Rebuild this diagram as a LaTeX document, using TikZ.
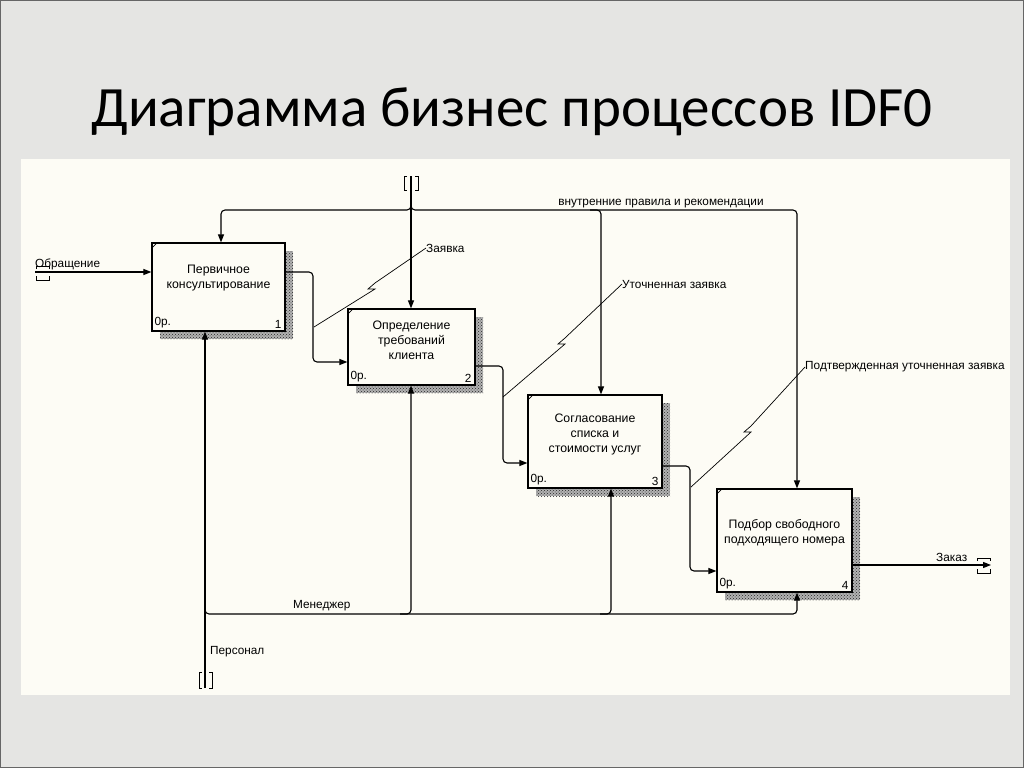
\documentclass[tikz,border=0pt]{standalone}
\usepackage{fontspec}
\setmainfont{Liberation Sans}
\newfontfamily\titlefont{Carlito}
\usetikzlibrary{arrows.meta,patterns,calc}
\definecolor{bgg}{RGB}{229,229,227}
\definecolor{panel}{RGB}{253,252,245}
\begin{document}
\begin{tikzpicture}[x=1pt,y=-1pt,
  box/.style={draw,line width=1.2pt,fill=panel,inner sep=0pt},
  shadowbox/.style={fill=black!30,postaction={pattern=crosshatch dots,pattern color=black!85}},
  conn/.style={line width=1.1pt,rounded corners=4pt},
  arr/.style={conn,-{Triangle[length=8pt,width=6pt]}},
  tun/.style={line width=1pt},
  lead/.style={line width=0.7pt},
  lbl/.style={font=\fontsize{11.8}{13}\selectfont,inner sep=0pt},
  btxt/.style={font=\fontsize{12.3}{15}\selectfont,align=center,inner sep=0pt},
]
\useasboundingbox (0,0) rectangle (1024,768);
\fill[bgg] (0,0) rectangle (1024,768);
\draw[black!60,line width=1.2pt] (0.6,0.6) rectangle (1023.4,767.4);
\fill[panel] (21,159) rectangle (1010,695);
\node[font=\titlefont\fontsize{57}{60}\selectfont,anchor=base] (title) at (512,126) {Диаграмма бизнес процессов IDF0};

% shadows
\path[shadowbox] (160,251) rectangle (293,339);
\path[shadowbox] (356,317) rectangle (483,393);
\path[shadowbox] (536,403) rectangle (670,496);
\path[shadowbox] (725,497) rectangle (860,600);

% boxes
\node[box,minimum width=133pt,minimum height=88pt] (b1) at (218.5,287) {};
\node[box,minimum width=127pt,minimum height=76pt] (b2) at (411.5,347) {};
\node[box,minimum width=134pt,minimum height=93pt] (b3) at (595,441.5) {};
\node[box,minimum width=135pt,minimum height=103pt] (b4) at (784.5,540.5) {};

\foreach \b in {b1,b2,b3,b4}{
  \draw[lead] ([yshift=-6pt]\b.north west) -- ([xshift=6pt]\b.north west);
}

\node[btxt] (t1) at (218.5,278) {Первичное\\консультирование};
\node[btxt] (t2) at (411.5,340) {Определение\\требований\\клиента};
\node[btxt] (t3) at (595,434) {Согласование\\списка и\\стоимости услуг};
\node[btxt] (t4) at (784.5,533) {Подбор свободного\\подходящего номера};

\node[lbl,anchor=south west] (n1) at ([xshift=3pt,yshift=3pt]b1.south west) {0р.};
\node[lbl,anchor=south east] (k1) at ([xshift=-4pt,yshift=3pt]b1.south east) {1};
\node[lbl,anchor=south west] (n2) at ([xshift=3pt,yshift=3pt]b2.south west) {0р.};
\node[lbl,anchor=south east] (k2) at ([xshift=-4pt,yshift=3pt]b2.south east) {2};
\node[lbl,anchor=south west] (n3) at ([xshift=3pt,yshift=3pt]b3.south west) {0р.};
\node[lbl,anchor=south east] (k3) at ([xshift=-4pt,yshift=3pt]b3.south east) {3};
\node[lbl,anchor=south west] (n4) at ([xshift=3pt,yshift=3pt]b4.south west) {0р.};
\node[lbl,anchor=south east] (k4) at ([xshift=-4pt,yshift=3pt]b4.south east) {4};

% input
\coordinate (inL) at (35,272);
\draw[arr] (inL) -- (b1.west |- inL);
\draw[tun] (36,269) -- (36,266) -- (49,266) -- (49,269);
\draw[tun] (36,276) -- (36,280) -- (49,280) -- (49,276);
\node[lbl,anchor=south west] (lobr) at (35,270) {Обращение};

% controls
\coordinate (ctop) at (411,176);
\coordinate (j1a) at (411,202);
\coordinate (j1) at (411,210);
\coordinate (j2a) at (590,210);
\coordinate (j2) at (601,210);
\draw[arr] (ctop) -- (b2.north -| ctop);
\draw[tun] (407,176) -- (404,176) -- (404,190) -- (407,190);
\draw[tun] (415,176) -- (418,176) -- (418,190) -- (415,190);
\draw[arr] (j1a) -- (j1) -| ([xshift=2.5pt]b1.north);
\draw[arr] (j1a) -- (j1) -| ([xshift=12.5pt]b4.north);
\draw[arr] (j2a) -- (j2) -- (b3.north -| j2);
\node[lbl,anchor=south] (lrules) at (661,208) {внутренние правила и рекомендации};

% b1 -> b2
\draw[arr] (b1.east |- 0,272) -- (313,272) -- (313,362) -- (b2.west |- 0,362);
\node[lbl,anchor=west] (lz) at (426,248) {Заявка};
\draw[lead] (lz.west) -- (375,283) -- (368,289) -- (375,289) -- (314,327);

% b2 -> b3
\draw[arr] (b2.east |- 0,366) -- (503,366) -- (503,463) -- (b3.west |- 0,463);
\node[lbl,anchor=west] (lu) at (622,284) {Уточненная заявка};
\draw[lead] (lu.west) -- (565,338) -- (558,344) -- (565,344) -- (503,397);

% b3 -> b4
\draw[arr] (b3.east |- 0,466) -- (690,466) -- (690,571) -- (b4.west |- 0,571);
\node[lbl,anchor=west] (lp) at (805,367) {Подтвержденная уточненная заявка};
\draw[lead] (lp.west) -- (751,426) -- (744,432) -- (751,432) -- (691,487);

% output
\coordinate (outR) at (991,565);
\draw[arr] (b4.east |- outR) -- (outR);
\draw[tun] (977,561) -- (977,558) -- (990,558) -- (990,561);
\draw[tun] (977,569) -- (977,573) -- (990,573) -- (990,569);
\node[lbl,anchor=south west] (lzak) at (936,562) {Заказ};

% mechanisms
\coordinate (mbot) at (205,688);
\coordinate (m1a) at (205,606);
\coordinate (m1) at (205,614);
\coordinate (m2a) at (400,614);
\coordinate (m2) at (411,614);
\coordinate (m3a) at (600,614);
\coordinate (m3) at (611,614);
\draw[arr] (mbot) -- (b1.south -| mbot);
\draw[tun] (202,672) -- (199,672) -- (199,688) -- (202,688);
\draw[tun] (209,672) -- (212,672) -- (212,688) -- (209,688);
\draw[arr] (m1a) -- (m1) -| ([xshift=12.5pt]b4.south);
\draw[arr] (m2a) -- (m2) -- (b2.south -| m2);
\draw[arr] (m3a) -- (m3) -- (b3.south -| m3);
\node[lbl,anchor=west] (lmen) at (293,606) {Менеджер};
\node[lbl,anchor=west] (lper) at (210,652) {Персонал};
\end{tikzpicture}
\end{document}
